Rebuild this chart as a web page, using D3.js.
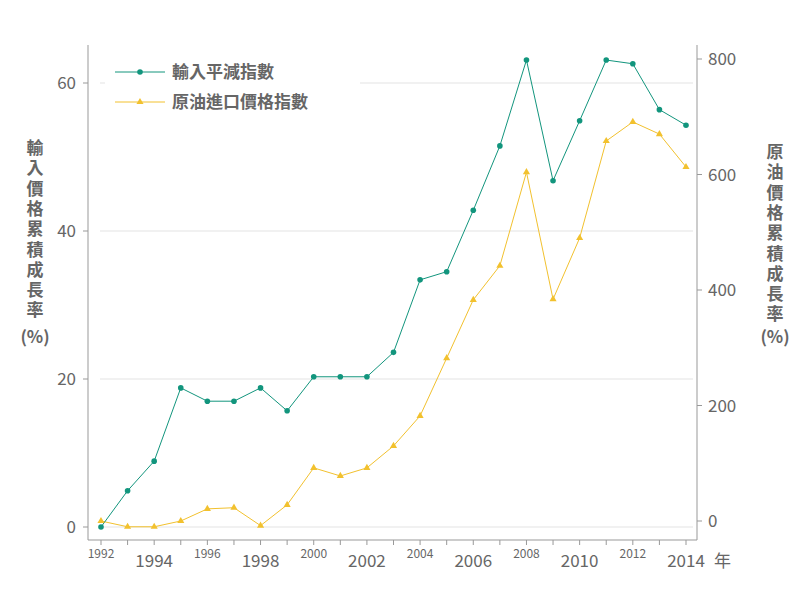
<!DOCTYPE html><html><head><meta charset="utf-8"><script src="https://cdn.jsdelivr.net/npm/d3@7"></script>
<style>body{margin:0;background:#fff}text{font-family:"Noto Sans CJK TC","Noto Sans",sans-serif}</style></head><body><svg id="c" width="800" height="591"></svg><script>
const years=d3.range(1992,2015);
const importDeflator=[0,4.9,8.9,18.8,17,17,18.8,15.7,20.3,20.3,20.3,23.6,33.4,34.5,42.8,51.5,63.1,46.8,54.9,63.1,62.6,56.4,54.3];
const crudeOil=[0,-10,-10,0,21,23,-8,28,92,78,92,130,182,282,383,442,604,384,490,658,691,670,613];
const leftTicks=[0,20,40,60], rightTicks=[0,200,400,600,800];
const seriesNames=["輸入平減指數","原油進口價格指數"];
const svg=d3.select("#c");
const x=d3.scaleLinear().domain([1992,2014]).range([101,686]);
const yl=d3.scaleLinear().domain([0,60]).range([527,83]);
const yr=d3.scaleLinear().domain([0,800]).range([521,59]);
const teal="#12957d",gold="#f2c12e",grey="#666";
svg.selectAll(".g").data(leftTicks).enter().append("line").attr("x1",100).attr("x2",693).attr("y1",d=>yl(d)).attr("y2",d=>yl(d)).attr("stroke","#e3e3e3");
svg.append("line").attr("x1",88).attr("x2",88).attr("y1",45).attr("y2",540).attr("stroke","#999");
svg.append("line").attr("x1",697).attr("x2",697).attr("y1",45).attr("y2",540).attr("stroke","#999");
svg.append("line").attr("x1",88).attr("x2",697).attr("y1",540).attr("y2",540).attr("stroke","#999");
leftTicks.forEach(t=>{svg.append("line").attr("x1",83).attr("x2",88).attr("y1",yl(t)).attr("y2",yl(t)).attr("stroke","#999");
svg.append("text").attr("x",76).attr("y",yl(t)+6).attr("text-anchor","end").attr("font-size",17).attr("fill",grey).text(t);});
rightTicks.forEach(t=>{svg.append("line").attr("x1",697).attr("x2",702).attr("y1",yr(t)).attr("y2",yr(t)).attr("stroke","#999");
svg.append("text").attr("x",708).attr("y",yr(t)+6).attr("font-size",17).attr("fill",grey).text(t);});
years.forEach(yv=>{const big=yv%4==2;
svg.append("line").attr("x1",x(yv)).attr("x2",x(yv)).attr("y1",540).attr("y2",545).attr("stroke","#999");
if(yv%2==0){svg.append("text").attr("x",x(yv)).attr("y",big?567:558).attr("text-anchor","middle").attr("font-size",big?17:12).attr("fill",grey).text(yv);}});
svg.append("text").attr("x",714).attr("y",567).attr("font-size",17).attr("fill",grey).text("年");
const lt="輸入價格累積成長率", rt="原油價格累積成長率";
[...lt].forEach((c,i)=>svg.append("text").attr("x",35).attr("y",154+i*20.3).attr("text-anchor","middle").attr("font-size",17).attr("font-weight","bold").attr("fill",grey).text(c));
svg.append("text").attr("x",35).attr("y",343).attr("text-anchor","middle").attr("font-size",17).attr("font-weight","bold").attr("fill",grey).text("(%)");
[...rt].forEach((c,i)=>svg.append("text").attr("x",775).attr("y",158+i*20.3).attr("text-anchor","middle").attr("font-size",17).attr("font-weight","bold").attr("fill",grey).text(c));
svg.append("text").attr("x",775).attr("y",343).attr("text-anchor","middle").attr("font-size",17).attr("font-weight","bold").attr("fill",grey).text("(%)");
svg.append("rect").attr("x",105).attr("y",55).attr("width",255).attr("height",65).attr("fill","#fff");
const lineL=d3.line().x((d,i)=>x(years[i])).y(d=>yl(d));
const lineR=d3.line().x((d,i)=>x(years[i])).y(d=>yr(d));
svg.append("path").attr("d",lineR(crudeOil)).attr("fill","none").attr("stroke",gold).attr("stroke-width",1);
svg.append("path").attr("d",lineL(importDeflator)).attr("fill","none").attr("stroke",teal).attr("stroke-width",1);
const tri=d3.symbol().type(d3.symbolTriangle).size(22);
svg.selectAll(".t").data(crudeOil).enter().append("path").attr("d",tri).attr("fill",gold).attr("transform",(d,i)=>`translate(${x(years[i])},${yr(d)})`);
svg.selectAll(".c").data(importDeflator).enter().append("circle").attr("cx",(d,i)=>x(years[i])).attr("cy",d=>yl(d)).attr("r",2.8).attr("fill",teal);
[[teal,0],[gold,1]].forEach(([col,i])=>{const yy=72+i*30;
svg.append("line").attr("x1",115).attr("x2",165).attr("y1",yy).attr("y2",yy).attr("stroke",col);
if(i==0)svg.append("circle").attr("cx",140).attr("cy",yy).attr("r",2.8).attr("fill",col);
else svg.append("path").attr("d",tri).attr("fill",col).attr("transform",`translate(140,${yy})`);
svg.append("text").attr("x",172).attr("y",yy+6).attr("font-size",17).attr("font-weight","bold").attr("fill",grey).text(seriesNames[i]);});
</script></body></html>
